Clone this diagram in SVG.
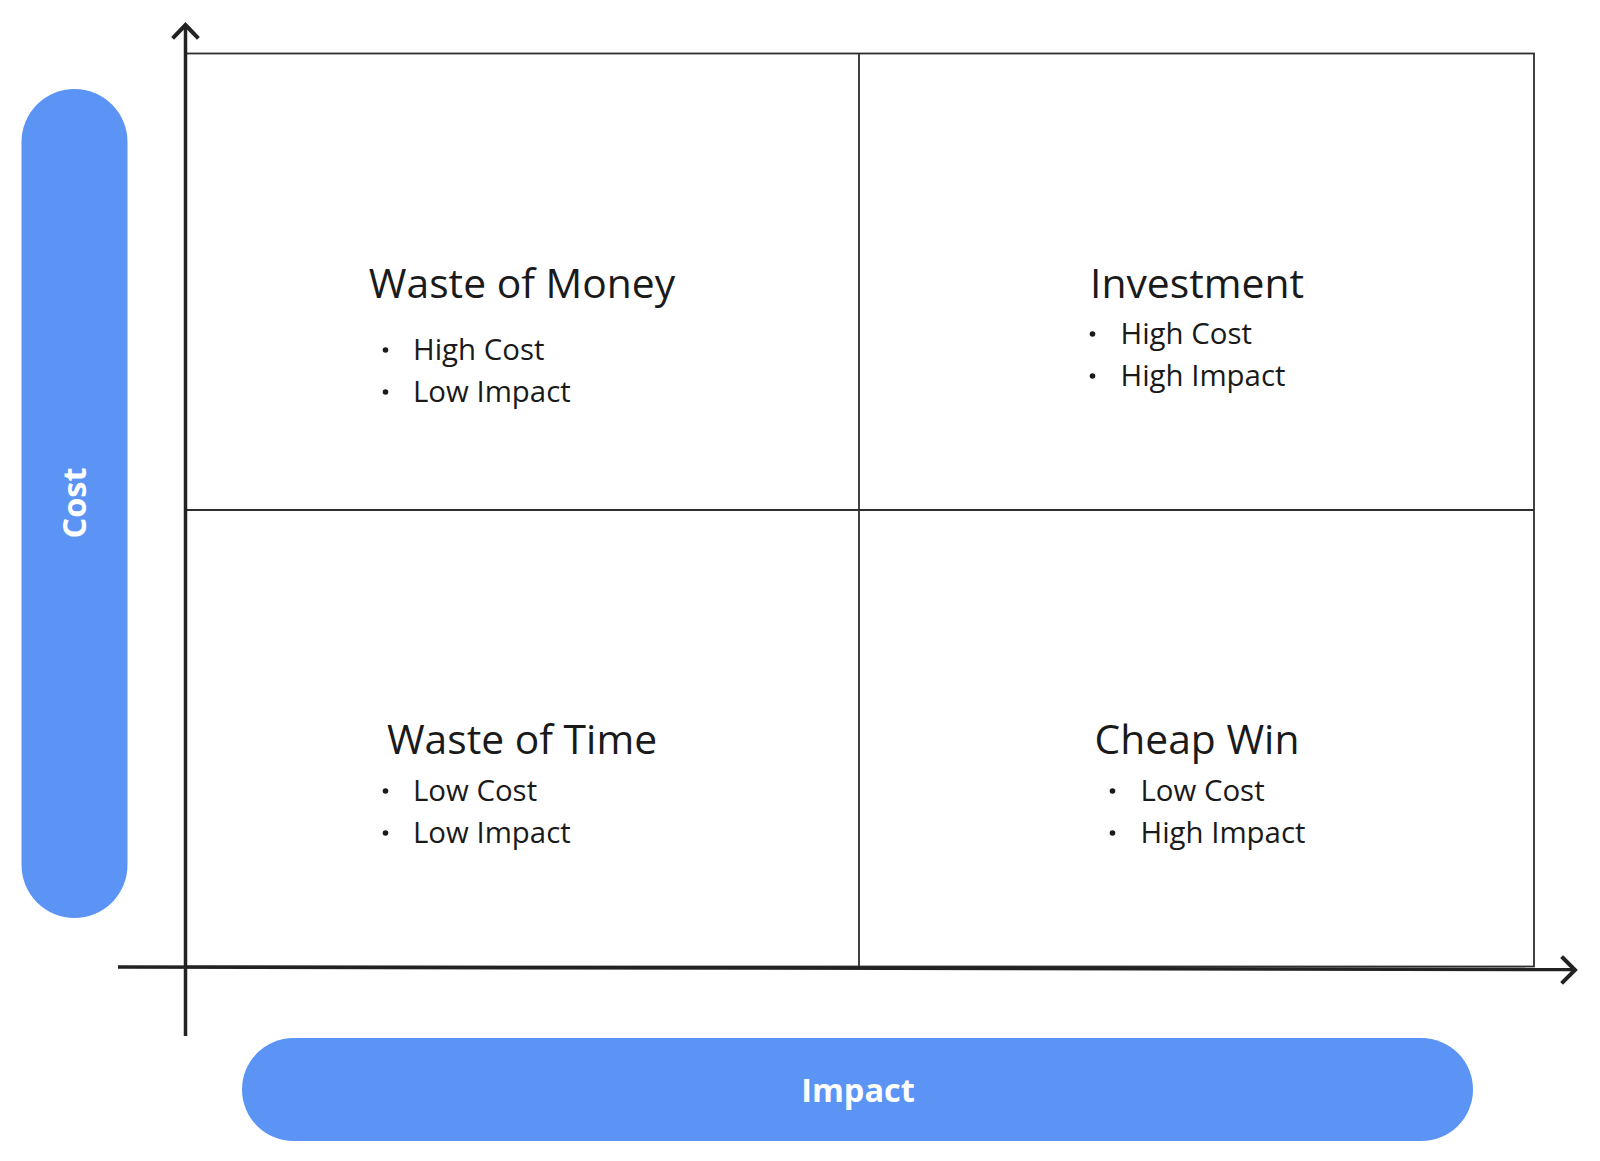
<svg xmlns="http://www.w3.org/2000/svg" width="1600" height="1161" viewBox="0 0 1600 1161">
<style>
.pill{fill:#5c94f5}
.pl{font-family:"Open Sans","Liberation Sans",sans-serif;font-weight:700;font-size:32.5px;fill:#ffffff;text-anchor:middle}
.title{font-family:"Open Sans","Liberation Sans",sans-serif;font-size:40.8px;fill:#1a1a1a;text-anchor:middle}
.item{font-family:"Open Sans","Liberation Sans",sans-serif;font-size:29.4px;fill:#1a1a1a}
.dot{fill:#1a1a1a}
.grid{stroke:#2e2e2e;stroke-width:1.8;fill:none}
.axis{stroke:#222;stroke-width:3.5;fill:none}
.head{stroke:#222;stroke-width:4;fill:none;stroke-linecap:square}
</style>
<rect width="1600" height="1161" fill="#ffffff"/>
<g id="grid">
<rect class="grid" x="185" y="53.5" width="1349" height="913"/>
<line class="grid" x1="859" y1="53.5" x2="859" y2="966.5"/>
<line class="grid" x1="185" y1="510" x2="1534" y2="510"/>
</g>
<g id="connectors">
<line class="axis" x1="185.5" y1="26" x2="185.5" y2="1036"/>
<polyline class="head" points="174,37 185.5,25 197,37"/>
<line class="axis" x1="118" y1="967" x2="1574" y2="969.5"/>
<polyline class="head" points="1563,958 1575,970 1563,982"/>
</g>
<g id="cost-label">
<rect class="pill" x="21.5" y="89" width="106" height="829" rx="53" ry="53"/>
<text class="pl" transform="translate(86,503) rotate(-90)" x="0" y="0">Cost</text>
</g>
<g id="impact-label">
<rect class="pill" x="242" y="1038" width="1231" height="103" rx="51.5" ry="51.5"/>
<text class="pl" x="858" y="1101.5">Impact</text>
</g>
<g id="waste-of-money">
<text class="title" x="522" y="297.5">Waste of Money</text>
<circle class="dot" cx="385.5" cy="350" r="2.8"/>
<text class="item" x="413" y="360">High Cost</text>
<circle class="dot" cx="385.5" cy="392" r="2.8"/>
<text class="item" x="413" y="402">Low Impact</text>
</g>
<g id="investment">
<text class="title" x="1197" y="297.5">Investment</text>
<circle class="dot" cx="1092.5" cy="334" r="2.8"/>
<text class="item" x="1120.5" y="343.5">High Cost</text>
<circle class="dot" cx="1092.5" cy="376" r="2.8"/>
<text class="item" x="1120.5" y="385.5">High Impact</text>
</g>
<g id="waste-of-time">
<text class="title" x="522" y="753.5">Waste of Time</text>
<circle class="dot" cx="385.5" cy="791" r="2.8"/>
<text class="item" x="413" y="800.5">Low Cost</text>
<circle class="dot" cx="385.5" cy="833" r="2.8"/>
<text class="item" x="413" y="842.5">Low Impact</text>
</g>
<g id="cheap-win">
<text class="title" x="1197" y="753.5">Cheap Win</text>
<circle class="dot" cx="1112.5" cy="791" r="2.8"/>
<text class="item" x="1140.5" y="800.5">Low Cost</text>
<circle class="dot" cx="1112.5" cy="833" r="2.8"/>
<text class="item" x="1140.5" y="842.5">High Impact</text>
</g>
</svg>
